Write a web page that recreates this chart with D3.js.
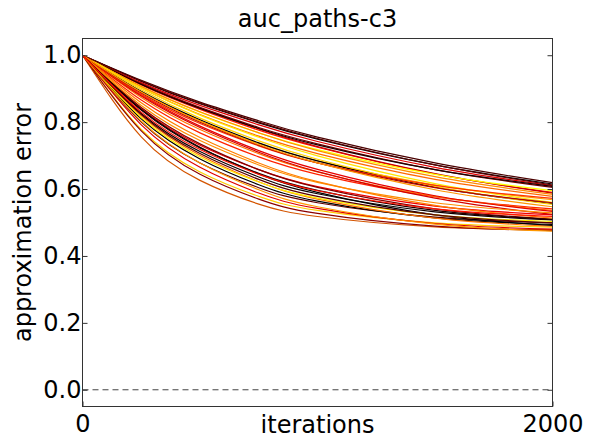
<!DOCTYPE html>
<html><head><meta charset="utf-8">
<script src="https://cdn.jsdelivr.net/npm/d3@7/dist/d3.min.js"></script>
<style>
html,body{margin:0;padding:0;background:#fff;}
text{font-family:"DejaVu Sans",sans-serif;fill:#000;}
</style></head>
<body><svg id="chart" width="593" height="438"></svg>
<script>
const chartTitle = "auc_paths-c3";
const xLabel = "iterations";
const yLabel = "approximation error";
const iterations = [0, 250, 500, 750, 1000, 1500, 2000];
const xTicks = [0, 2000];
const yTicks = [0.0, 0.2, 0.4, 0.6, 0.8, 1.0];
const errorPaths = [
  [1,0.925,0.860,0.804,0.755,0.678,0.619],
  [1,0.756,0.626,0.555,0.518,0.487,0.479],
  [1,0.866,0.768,0.696,0.644,0.577,0.541],
  [1,0.922,0.855,0.798,0.749,0.672,0.615],
  [1,0.778,0.651,0.578,0.536,0.499,0.486],
  [1,0.874,0.778,0.706,0.651,0.578,0.536],
  [1,0.918,0.850,0.792,0.742,0.665,0.610],
  [1,0.792,0.665,0.588,0.542,0.497,0.480],
  [1,0.890,0.804,0.736,0.684,0.612,0.568],
  [1,0.911,0.838,0.776,0.725,0.645,0.590],
  [1,0.800,0.678,0.604,0.559,0.516,0.499],
  [1,0.881,0.788,0.715,0.659,0.580,0.533],
  [1,0.915,0.844,0.784,0.735,0.658,0.605],
  [1,0.810,0.690,0.613,0.564,0.514,0.494],
  [1,0.892,0.807,0.738,0.684,0.606,0.556],
  [1,0.914,0.842,0.780,0.727,0.646,0.588],
  [1,0.826,0.712,0.636,0.586,0.532,0.508],
  [1,0.897,0.812,0.744,0.689,0.608,0.554],
  [1,0.913,0.841,0.781,0.732,0.658,0.608],
  [1,0.819,0.701,0.622,0.570,0.513,0.489],
  [1,0.906,0.830,0.768,0.718,0.644,0.595],
  [1,0.907,0.831,0.768,0.715,0.637,0.584],
  [1,0.840,0.731,0.658,0.607,0.549,0.523],
  [1,0.902,0.823,0.758,0.706,0.629,0.578],
  [1,0.902,0.821,0.755,0.699,0.616,0.560],
  [1,0.844,0.735,0.658,0.605,0.541,0.510],
  [1,0.878,0.784,0.710,0.652,0.573,0.524],
  [1,0.923,0.857,0.800,0.751,0.672,0.612],
  [1,0.838,0.725,0.645,0.590,0.523,0.491],
  [1,0.883,0.796,0.729,0.678,0.611,0.572],
  [1,0.850,0.745,0.672,0.620,0.559,0.529],
  [1,0.858,0.754,0.678,0.622,0.551,0.513],
  [1,0.814,0.696,0.621,0.573,0.523,0.503],
  [1,0.887,0.800,0.731,0.678,0.604,0.559],
  [1,0.836,0.723,0.647,0.596,0.536,0.509],
  [1,0.890,0.803,0.733,0.678,0.598,0.547],
  [1,0.774,0.644,0.570,0.527,0.489,0.476],
  [1,0.823,0.706,0.629,0.578,0.523,0.499],
  [1,0.803,0.678,0.598,0.547,0.495,0.474],
  [1,0.830,0.718,0.644,0.595,0.541,0.518]
];
const pathColors = [
  "#4a0000","#d45500","#ff2200","#000000","#ffcc00","#ff7700","#e00000","#e00000",
  "#ffa000","#ff1a00","#660000","#e60000","#7a0000","#000000","#000000","#cc0000",
  "#0d0000","#ffd000","#1a0000","#ff7000","#ffff00","#ff8c00","#f00000","#ff6a00",
  "#ffe600","#800000","#d40000","#5c0000","#000000","#ff3300","#ff8c00","#ff8000",
  "#ffee00","#b30000","#200000","#ff9500","#8b0000","#5a0000","#ff9900","#ff1100"
];

const svg = d3.select("#chart");
const L = 82.5, R = 552.5, T = 38.5, B = 406.5;
const x = d3.scaleLinear().domain([0, 2000]).range([L, R]);
const y = d3.scaleLinear().domain([-0.05, 1.05]).range([B, T]);

svg.append("clipPath").attr("id","clip").append("rect")
  .attr("x", L).attr("y", T).attr("width", R-L).attr("height", B-T);

const line = d3.line().x((d,i)=>x(iterations[i])).y(d=>y(d)).curve(d3.curveNatural);
const g = svg.append("g").attr("clip-path","url(#clip)");
errorPaths.forEach((vals,i)=>{
  g.append("path").attr("d", line(vals)).attr("fill","none")
    .attr("stroke", pathColors[i]).attr("stroke-width", 1.2);
});
g.append("line").attr("x1", x(0)).attr("x2", x(2000)).attr("y1", y(0)).attr("y2", y(0))
  .attr("stroke","#444").attr("stroke-width",1).attr("stroke-dasharray","6,4");

svg.append("rect").attr("x",L).attr("y",T).attr("width",R-L).attr("height",B-T)
  .attr("fill","none").attr("stroke","#333").attr("stroke-width",1);

const yAxisL = d3.axisLeft(y).tickValues(yTicks).tickFormat(d3.format(".1f")).tickSizeInner(-5).tickSizeOuter(0).tickPadding(6);
const gy = svg.append("g").attr("transform",`translate(${L},0)`).call(yAxisL);
gy.select(".domain").remove();
gy.selectAll("line").attr("stroke","#333");
gy.selectAll("text").attr("font-size",24).attr("font-family","DejaVu Sans").attr("dx","5");
const yAxisR = d3.axisRight(y).tickValues(yTicks).tickFormat("").tickSizeInner(-5).tickSizeOuter(0);
const gyr = svg.append("g").attr("transform",`translate(${R},0)`).call(yAxisR);
gyr.select(".domain").remove();
gyr.selectAll("line").attr("stroke","#333");

const xAxis = d3.axisBottom(x).tickValues(xTicks).tickFormat(d3.format("d")).tickSizeInner(-5).tickSizeOuter(0).tickPadding(8);
const gx = svg.append("g").attr("transform",`translate(0,${B})`).call(xAxis);
gx.select(".domain").remove();
gx.selectAll("line").attr("stroke","#333");
gx.selectAll("text").attr("font-size",24).attr("font-family","DejaVu Sans");

svg.append("text").attr("x",(L+R)/2).attr("y",27).attr("text-anchor","middle")
  .attr("font-size",24).text(chartTitle);
svg.append("text").attr("x",(L+R)/2).attr("y",433).attr("text-anchor","middle")
  .attr("font-size",24).text(xLabel);
svg.append("text").attr("transform",`translate(31,${(T+B)/2}) rotate(-90)`).attr("text-anchor","middle")
  .attr("font-size",24).text(yLabel);
</script>
</body></html>
